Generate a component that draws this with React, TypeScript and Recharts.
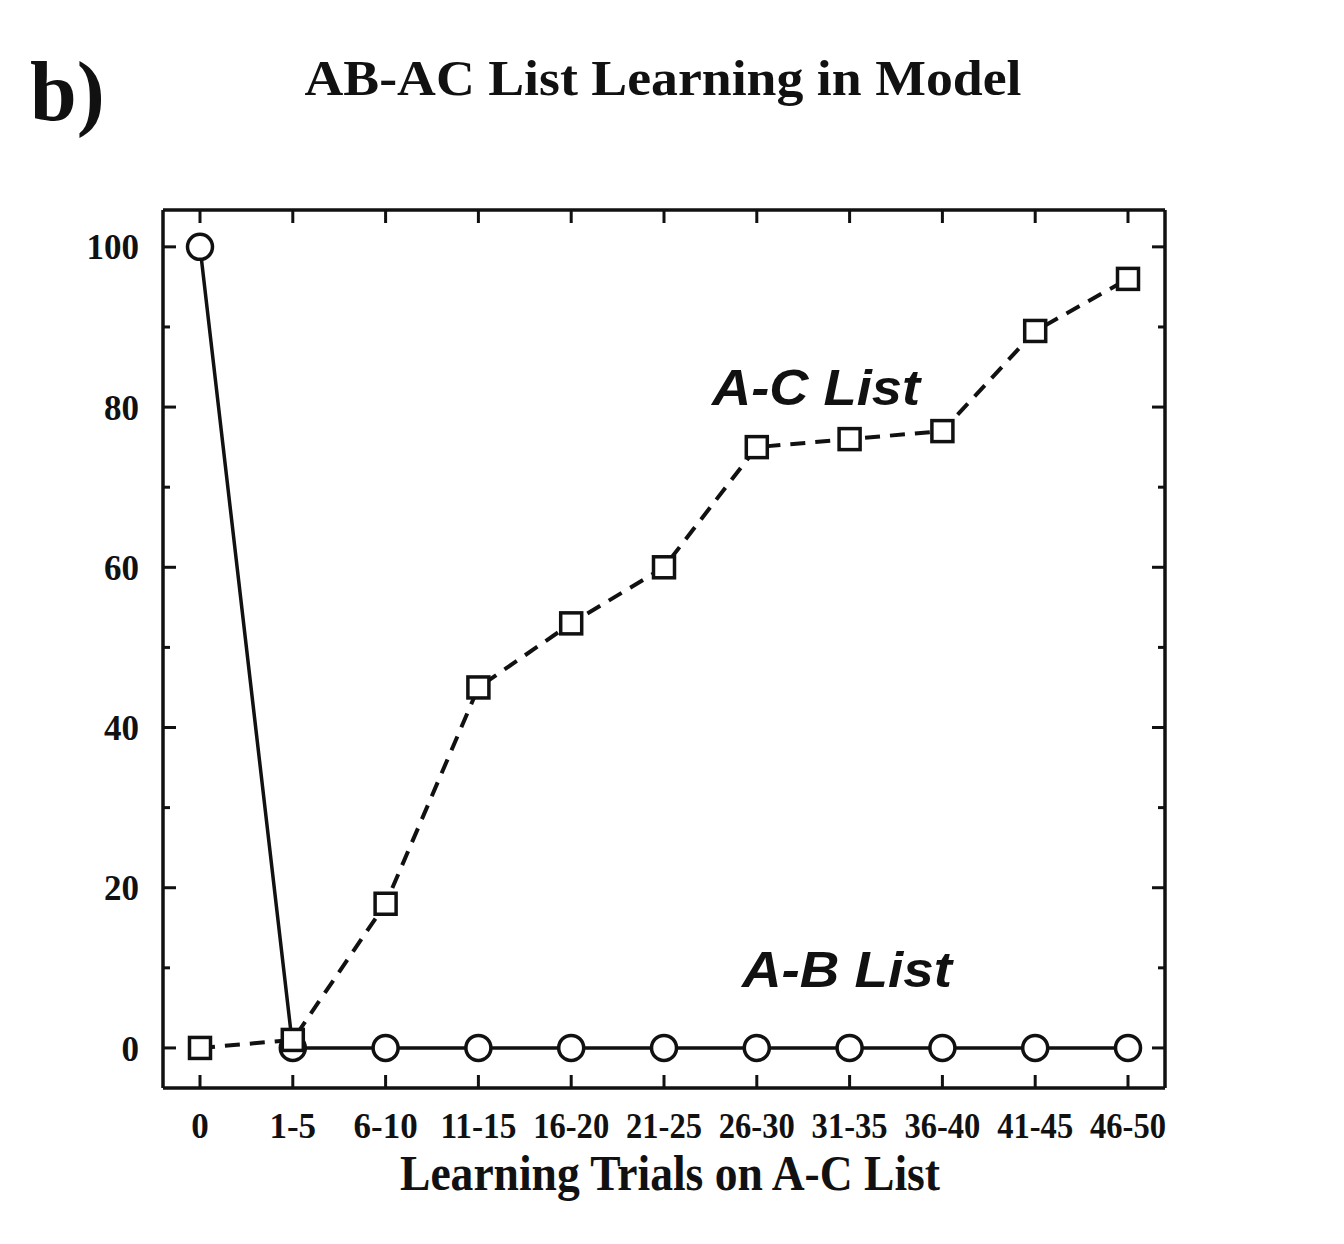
import { LineChart, Line, XAxis, YAxis } from "recharts";

const trials = ["0", "1-5", "6-10", "11-15", "16-20", "21-25", "26-30", "31-35", "36-40", "41-45", "46-50"];
const abList = [100, 0, 0, 0, 0, 0, 0, 0, 0, 0, 0];
const acList = [0, 1, 18, 45, 53, 60, 75, 76, 77, 89.5, 96];
const yTicks = [0, 10, 20, 30, 40, 50, 60, 70, 80, 90, 100];
const yLabeled = [0, 20, 40, 60, 80, 100];

const chartData = trials.map((t, i) => ({ trial: t, ab: abList[i], ac: acList[i] }));

// plot box inside the chart svg
const W = 1336;
const H = 1236;
const LEFT = 155;
const TOP = 202;
const RIGHT = 1157;
const BOTTOM = 1080;
const INK = "#111";
const SERIF = "'Liberation Serif', 'Times New Roman', serif";
const SANS = "'Liberation Sans', Arial, sans-serif";

function YTick(props: any) {
  const { y, payload } = props;
  const major = yLabeled.includes(payload.value);
  const len = major ? 13 : 7;
  return (
    <g>
      <line x1={LEFT} x2={LEFT + len} y1={y} y2={y} stroke={INK} strokeWidth={3} />
      <line x1={RIGHT} x2={RIGHT - len} y1={y} y2={y} stroke={INK} strokeWidth={3} />
      {major && (
        <text x={LEFT - 24} y={y} dy="0.36em" textAnchor="end" fontFamily={SERIF} fontWeight="bold" fontSize={35} fill={INK}>
          {payload.value}
        </text>
      )}
    </g>
  );
}

function XTick(props: any) {
  const { x, payload } = props;
  const wide = payload.value.length === 5;
  return (
    <g>
      <line x1={x} x2={x} y1={BOTTOM} y2={BOTTOM - 13} stroke={INK} strokeWidth={3} />
      <line x1={x} x2={x} y1={TOP} y2={TOP + 13} stroke={INK} strokeWidth={3} />
      <text
        x={x}
        y={BOTTOM + 50}
        textAnchor="middle"
        fontFamily={SERIF}
        fontWeight="bold"
        fontSize={35}
        textLength={wide ? 76 : undefined}
        lengthAdjust={wide ? "spacingAndGlyphs" : undefined}
        fill={INK}
      >
        {payload.value}
      </text>
    </g>
  );
}

const circleDot = (p: any) => (
  <circle key={`c${p.index}`} cx={p.cx} cy={p.cy} r={12.5} fill="#fff" stroke={INK} strokeWidth={3.5} />
);

const squareDot = (p: any) => (
  <rect key={`s${p.index}`} x={p.cx - 10.5} y={p.cy - 10.5} width={21} height={21} fill="#fff" stroke={INK} strokeWidth={3.5} />
);

export default function App() {
  const axisLine = { stroke: INK, strokeWidth: 3.5 };
  return (
    <div style={{ position: "relative", width: W, height: H }}>
      <LineChart
        width={W}
        height={H}
        data={chartData}
        margin={{ top: TOP - 30, left: LEFT - 60, right: W - RIGHT - 60, bottom: H - BOTTOM - 30 }}
      >
        <XAxis
          dataKey="trial"
          padding={{ left: 37, right: 37 }}
          axisLine={axisLine}
          tickLine={false}
          tick={<XTick />}
          interval={0}
          height={30}
        />
        <XAxis xAxisId="top" dataKey="trial" orientation="top" padding={{ left: 37, right: 37 }} axisLine={axisLine} tick={false} tickLine={false} height={30} />
        <YAxis
          type="number"
          domain={[-5, 104.6]}
          ticks={yTicks}
          interval={0}
          axisLine={axisLine}
          tickLine={false}
          tick={<YTick />}
          width={60}
        />
        <YAxis yAxisId="right" orientation="right" type="number" domain={[-5, 104.6]} axisLine={axisLine} tick={false} tickLine={false} width={60} />
        <Line dataKey="ab" stroke={INK} strokeWidth={3.5} dot={circleDot} isAnimationActive={false} />
        <Line dataKey="ac" stroke={INK} strokeWidth={4} strokeDasharray="15 10" dot={squareDot} isAnimationActive={false} />
      </LineChart>
      <svg width={W} height={H} style={{ position: "absolute", left: 0, top: 0, pointerEvents: "none" }}>
        <text x={22} y={112} fontFamily={SERIF} fontWeight="bold" fontSize={84} fill={INK}>b)</text>
        <text x={655} y={87} textAnchor="middle" fontFamily={SERIF} fontWeight="bold" fontSize={50} textLength={717} lengthAdjust="spacingAndGlyphs" fill={INK}>
          AB-AC List Learning in Model
        </text>
        <text x={662} y={1182} textAnchor="middle" fontFamily={SERIF} fontWeight="bold" fontSize={50} textLength={540} lengthAdjust="spacingAndGlyphs" fill={INK}>
          Learning Trials on A-C List
        </text>
        <text x={704} y={397} fontFamily={SANS} fontWeight="bold" fontStyle="italic" fontSize={50} textLength={208} lengthAdjust="spacingAndGlyphs" fill={INK}>
          A-C List
        </text>
        <text x={734} y={979} fontFamily={SANS} fontWeight="bold" fontStyle="italic" fontSize={50} textLength={210} lengthAdjust="spacingAndGlyphs" fill={INK}>
          A-B List
        </text>
      </svg>
    </div>
  );
}
